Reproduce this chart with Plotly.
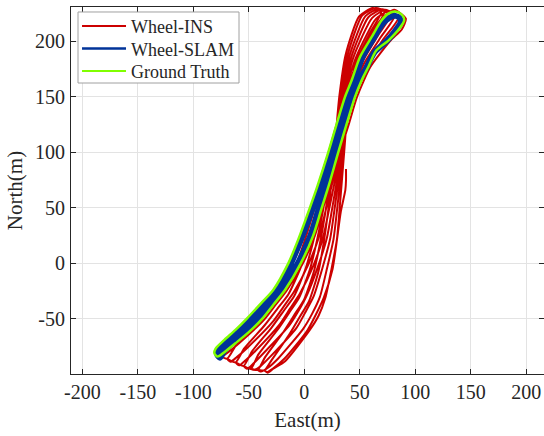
import plotly.graph_objects as go

# ---------------- data (East, North in metres) ----------------
GT_E = [-78, -81, -80, -72, -62, -52, -39, -28, -14.4, -6, 5, 12, 21.6, 29, 36.7, 42.7, 50.2, 60.7,
        69.7, 75.7, 82, 88, 90, 86, 76, 65, 57.7, 51.7, 45.7, 38, 30.6, 22, 15.7, 8, -3.2, -17.4,
        -27.7, -38, -50, -62, -72, -78]
GT_N = [-84, -81, -77, -69, -60, -50, -36, -24, 0, 20, 50, 70, 100, 125, 150, 165, 186, 204,
        219, 225, 227, 224, 219, 212, 201, 192, 177, 165, 150, 125, 100, 70, 50, 25, 0, -24,
        -37, -50, -62, -72, -80, -84]

SLAM_E = [-76, -78.5, -77, -69.5, -59.5, -49.5, -36.5, -25.5, -12, -3.5, 7.5, 14.5, 24, 31.5, 39, 45,
          52.5, 62.5, 71, 77, 82, 86, 87, 83, 74, 63.5, 55.5, 49.5, 43.3, 35.5, 28.2, 19.5, 13.2,
          5.5, -5.8, -19.8, -29.5, -40, -51.5, -63, -72, -76]
SLAM_N = [-85, -82, -78, -70.5, -61.5, -51.5, -38, -25.5, 0, 20, 50, 70, 100, 125, 150, 165,
          186, 203, 216.5, 221.5, 223, 221, 217.5, 211, 200, 190.5, 175.5, 165, 150, 125, 100, 70, 50,
          25, 0, -22.5, -35.5, -48, -60, -70.5, -78.5, -85]

INS_LAP1_E = [-78.7, -69.9, -50.1, -37.2, -26.4, -13.0, -4.9, 5.8, 21.9, 29, 36.4, 49.5, 68.7, 81, 91.5,
              88, 77.5, 59.5, 47.5, 40, 32, 17, 9.5, -1.5, -15.8, -25.9, -36.1, -59.8, -69.7, -75.7, -78.7]
INS_LAP1_N = [-82.0, -69.9, -50.7, -36.6, -24.5, -0.4, 19.7, 49.8, 99.9, 124.9, 150, 186.1, 219.3, 228.5,
              220.5, 211, 200.5, 177, 150, 125, 100, 49.9, 24.8, -0.3, -24.4, -37.5, -50.6, -72.8, -80.9,
              -84.9, -82.0]
INS_LAP2_E = [-69.7, -61.3, -42.4, -30.2, -19.9, -7.6, -0.3, 9.1, 23.0, 29, 35.4, 47.0, 64.6, 76.5, 84.8,
              71.8, 54.9, 44.4, 38, 31.9, 19.7, 13.4, 3.5, -9.4, -18.9, -28.5, -51.2, -60.8, -66.5, -69.7]
INS_LAP2_N = [-85.9, -73.5, -53.6, -39.0, -26.5, -1.9, 18.5, 48.9, 99.5, 124.7, 150, 186.5, 220.3, 227.5,
              221.4, 202.7, 177.9, 150.4, 125.2, 99.9, 49.4, 24.2, -1.3, -25.9, -39.4, -52.8, -76.0, -84.5,
              -88.7, -85.9]
INS_LAP3_E = [-61.9, -54.1, -35.9, -24.3, -14.4, -3.0, 3.5, 11.8, 23.9, 29, 34.5, 44.7, 61.2, 73.5, 81.3,
              69.0, 53.0, 43.4, 38, 32.8, 22.4, 17.0, 8.1, -3.9, -13.0, -22.0, -43.9, -53.1, -58.7, -61.9]
INS_LAP3_N = [-89.2, -76.6, -56.0, -41.0, -28.1, -3.2, 17.4, 48.1, 99.1, 124.5, 149.9, 186.8, 221.2, 228.5,
              222.9, 203.9, 178.5, 150.7, 125.3, 99.8, 49.0, 23.6, -2.2, -27.2, -41.0, -54.7, -78.7, -87.5,
              -91.9, -89.2]
INS_LAP4_E = [-54.7, -47.2, -29.8, -18.6, -9.2, 1.3, 7.2, 14.5, 24.8, 29.1, 33.7, 42.7, 57.9, 70.5, 78.0,
              66.3, 51.1, 42.6, 37.9, 33.7, 25.0, 20.4, 12.3, 2.5, -5.0, -14.0, -37.0, -45.9, -51.4, -54.7]
INS_LAP4_N = [-92.4, -79.4, -58.3, -42.9, -29.7, -4.4, 16.4, 47.3, 98.7, 124.3, 149.9, 187.0, 222.0, 229.0,
              224.5, 205.0, 179.1, 151.0, 125.3, 99.8, 48.6, 23.0, -3.0, -28.4, -42.5, -56.6, -81.2, -90.3,
              -95.0, -92.4]
INS_LAP5_E = [-48.3, -41.3, -24.4, -13.7, -4.7, 5.1, 10.3, 16.7, 25.6, 29.1, 33.0, 40.8, 55.1, 67.5, 75.1,
              64.0, 49.6, 41.8, 37.9, 34.4, 27.2, 23.4, 16.5, 8.5, 1.0, -7.0, -30.0, -39.6, -45.0, -48.3]
INS_LAP5_N = [-95.1, -82.0, -60.3, -44.6, -31.1, -5.4, 15.5, 46.7, 98.4, 124.1, 149.9, 187.3, 222.7, 229.5,
              225.8, 206.0, 179.6, 151.2, 125.4, 99.7, 48.3, 22.6, -3.7, -29.5, -44.0, -58.1, -83.4, -92.8,
              -96.0, -95.1]
INS_LAP6_E = [-42.0, -35.3, -19.1, -8.8, -0.1, 8.9, 13.5, 19.0, 26.3, 29.1, 32.2, 39.0, 52.2, 64.5, 72.2,
              61.6, 48.0, 41.1, 37.9, 35.2, 29.5, 26.4, 20.5, 14.0, 7.0, -1.0, -23.5, -33.3, -39.0, -42.0]
INS_LAP6_N = [-96.0, -84.5, -62.3, -46.2, -32.4, -6.5, 14.7, 46.0, 98.1, 124.0, 149.8, 187.5, 223.5, 230.0,
              227.1, 206.9, 180.1, 151.5, 125.5, 99.7, 47.9, 22.1, -4.5, -30.5, -45.5, -59.0, -85.7, -94.5,
              -97.5, -96.0]
INS_LAP7_E = [-36.0, -29.3, -13.7, -3.9, 4.4, 12.7, 16.7, 21.3, 27.1, 29.1, 31.5, 37.2, 49.4, 61.5, 69.3,
              59.3, 46.4, 40.3, 37.9, 35.9, 31.7, 29.4, 24.5, 19.0, 13.0, 5.0, -17.0, -28.0, -33.0, -36.0]
INS_LAP7_N = [-96.5, -87.0, -64.3, -47.9, -33.8, -7.5, 13.8, 45.4, 97.8, 123.8, 149.8, 187.8, 222.5, 230.0,
              226.5, 207.9, 180.6, 151.7, 125.6, 99.6, 47.6, 21.6, -5.2, -31.0, -47.0, -60.0, -87.9, -95.0,
              -98.5, -96.5]
INS_TAIL_E = [-33.5, -28.5, -18.0, 3.0, 17.5, 25.5, 33.0, 37.0, 37.6, 37.6]
INS_TAIL_N = [-98.0, -95.0, -86.0, -60.0, -31.0, -5.0, 47.0, 66.0, 75.0, 85.0]

X_TICKS = [-200, -150, -100, -50, 0, 50, 100, 150, 200]
X_LABELS = ["-200", "-150", "-100", "-50", "0", "50", "100", "150", "200"]
Y_TICKS = [-50, 0, 50, 100, 150, 200]
Y_LABELS = ["-50", "0", "50", "100", "150", "200"]
SERIES = ["Wheel-INS", "Wheel-SLAM", "Ground Truth"]

INS_E = (INS_LAP1_E + INS_LAP2_E + INS_LAP3_E + INS_LAP4_E + INS_LAP5_E + INS_LAP6_E
         + INS_LAP7_E + INS_TAIL_E)
INS_N = (INS_LAP1_N + INS_LAP2_N + INS_LAP3_N + INS_LAP4_N + INS_LAP5_N + INS_LAP6_N
         + INS_LAP7_N + INS_TAIL_N)

RED = "#CC0000"
BLUE = "#003399"
GREEN = "#80FF00"
FONT = "Liberation Serif"
INK = "#262626"

fig = go.Figure()
fig.add_trace(go.Scatter(x=INS_E, y=INS_N, mode="lines", name=SERIES[0], showlegend=False,
                         line=dict(color=RED, width=2, shape="spline", smoothing=0.6)))
fig.add_trace(go.Scatter(x=SLAM_E, y=SLAM_N, mode="lines", name=SERIES[1], showlegend=False,
                         line=dict(color=BLUE, width=6, shape="spline", smoothing=0.8)))
fig.add_trace(go.Scatter(x=GT_E, y=GT_N, mode="lines", name=SERIES[2], showlegend=False,
                         line=dict(color=GREEN, width=2.5, shape="spline", smoothing=0.8)))

# ---- legend box drawn in paper coordinates (MATLAB style) ----
L_X0, L_X1, L_Y0, L_Y1 = 0.0148, 0.3552, 0.7929, 0.9864
LINE_X0, LINE_X1, TEXT_X = 0.0233, 0.1163, 0.1220
ROW_Y = [0.9480, 0.8870, 0.8255]
shapes = [dict(type="rect", xref="paper", yref="paper", x0=L_X0, x1=L_X1, y0=L_Y0, y1=L_Y1,
               fillcolor="white", line=dict(color="#A0A0A0", width=1), layer="above")]
annotations = []
for name, col, w, yy in zip(SERIES, [RED, BLUE, GREEN], [2, 2.5, 2], ROW_Y):
    shapes.append(dict(type="line", xref="paper", yref="paper", x0=LINE_X0, x1=LINE_X1, y0=yy, y1=yy,
                       line=dict(color=col, width=w), layer="above"))
    annotations.append(dict(xref="paper", yref="paper", x=TEXT_X, y=yy - 0.003, text=name,
                            showarrow=False, xanchor="left", yanchor="middle",
                            font=dict(family=FONT, size=18, color=INK)))

axis_common = dict(showline=True, linecolor=INK, linewidth=1, mirror="ticks",
                   ticks="inside", ticklen=5, tickcolor=INK, tickwidth=1,
                   showgrid=True, gridcolor="#E3E3E3", gridwidth=1, zeroline=False,
                   tickfont=dict(family=FONT, size=20, color=INK))

fig.update_layout(
    width=544, height=436,
    margin=dict(l=71, r=0, t=7, b=62),
    paper_bgcolor="white", plot_bgcolor="white",
    font=dict(family=FONT, size=18, color=INK),
    showlegend=False,
    xaxis=dict(range=[-210.2, 216], tickvals=X_TICKS, ticktext=X_LABELS,
               title=dict(text="East(m)", font=dict(family=FONT, size=21, color=INK), standoff=10),
               **axis_common),
    yaxis=dict(range=[-99.7, 231], tickvals=Y_TICKS, ticktext=Y_LABELS, ticklabelstandoff=1,
               title=dict(text="North(m)", font=dict(family=FONT, size=21, color=INK), standoff=6),
               **axis_common),
    shapes=shapes,
    annotations=annotations,
)

fig.write_html("out.html")
